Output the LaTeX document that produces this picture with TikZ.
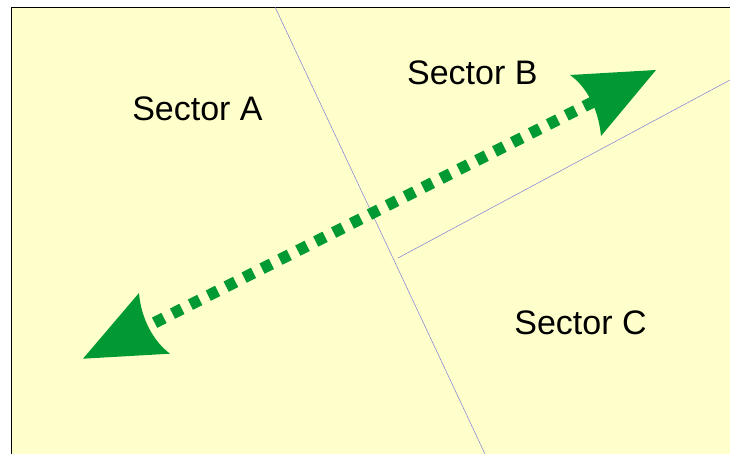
\documentclass[tikz,border=0pt]{standalone}
\usepackage{fontspec}
\setmainfont{Liberation Sans}
\usepackage{xcolor}
\definecolor{sectorfill}{RGB}{255,255,204}
\definecolor{flowgreen}{RGB}{0,153,51}
\definecolor{boundary}{RGB}{125,125,215}
\tikzset{
    sector/.style = {anchor = base, inner sep = 0pt, font = \fontsize{34}{36}\selectfont},
    boundaryline/.style = {draw = boundary, line width = 0.5pt},
    flowline/.style = {draw = flowgreen, line width = 11.5pt, dash pattern = on 10.5pt off 9.54pt}
}

\begin{document}
\begin{tikzpicture}[x = 1pt, y = -1pt]
            \useasboundingbox (0,0) rectangle (730,454);
            \fill[sectorfill] (11.5,7.5) rectangle (730,454);
            \draw[black, line width = 1pt] (11.5,454) -- (11.5,7.5) -- (730,7.5);

            \coordinate (north) at (275,7);
            \coordinate (south) at (485,454);
            \coordinate (fork) at (398,258);
            \coordinate (east) at (730,80);
            \draw[boundaryline] (north) -- (south);
            \draw[boundaryline] (fork) -- (east);

            \coordinate (flow_start) at (154.6,322.7);
            \coordinate (flow_end) at (593.7,101.6);
            \draw[flowline] (flow_start) -- (flow_end);

            % arrow heads
            \fill[flowgreen] (656,70) -- (570,75) .. controls (584,85) and (598,105) .. (601,136) -- cycle;
            \fill[flowgreen] (83,358.7) -- (139,293) .. controls (141,318) and (153,341) .. (170,353.7) -- cycle;

            \node[sector] (sector_a) at (197.5,121) {Sector A};
            \node[sector] (sector_b) at (472.3,84.3) {Sector B};
            \node[sector] (sector_c) at (580.5,334.7) {Sector C};
        \end{tikzpicture}
\end{document}
